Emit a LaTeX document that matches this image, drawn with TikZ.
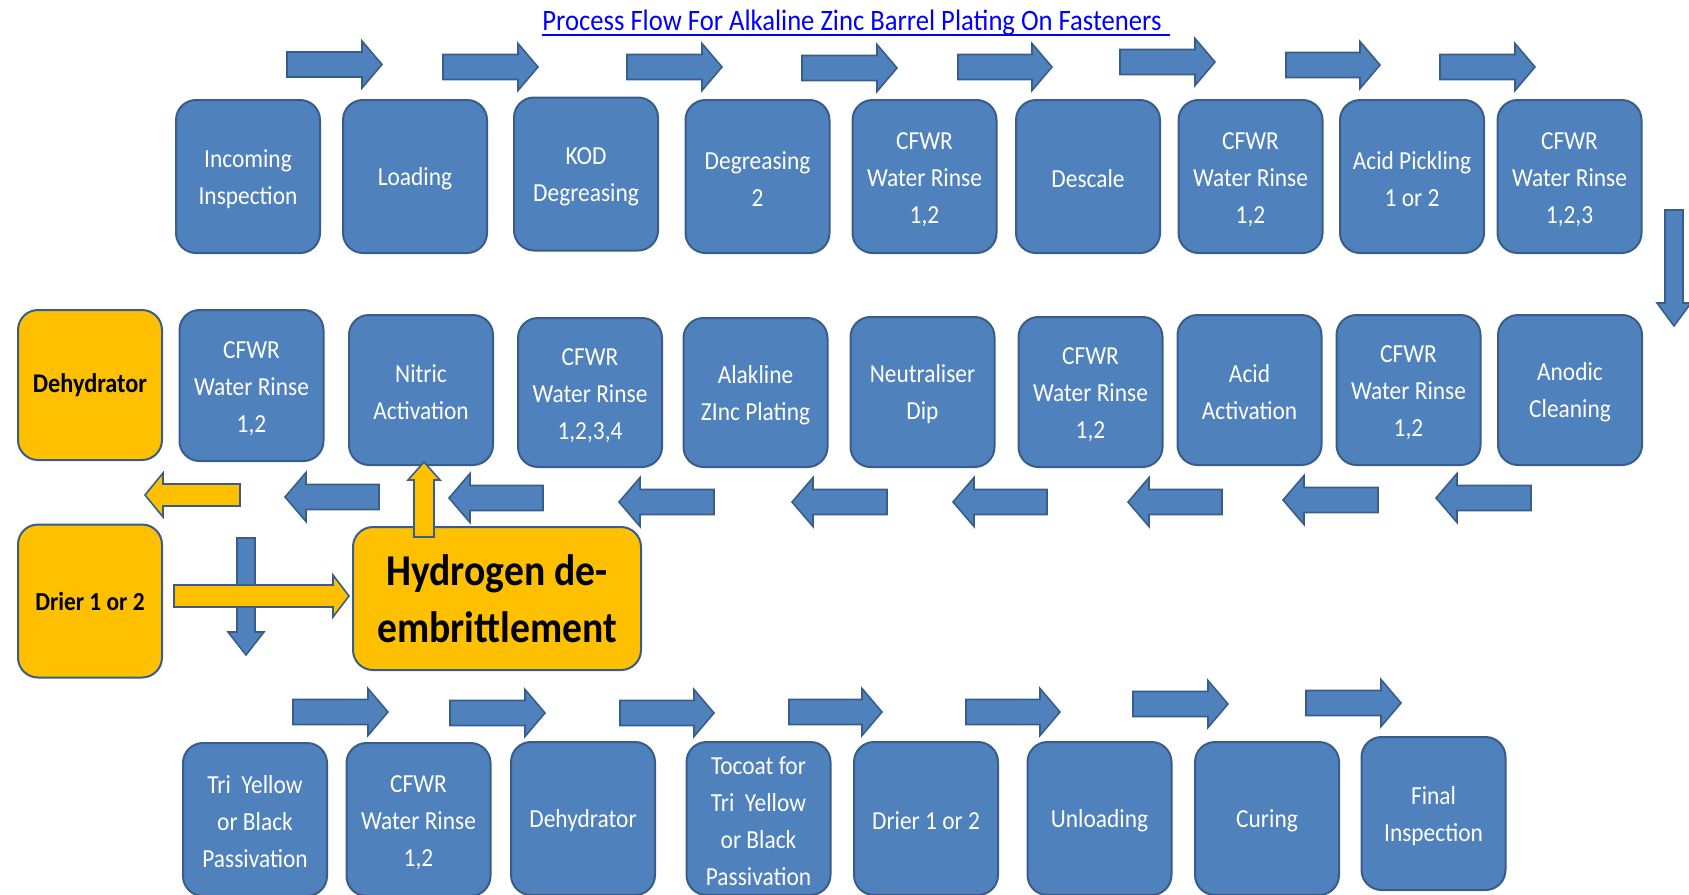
\documentclass[tikz,border=0pt]{standalone}
\usepackage{fontspec}
\setmainfont{Carlito}[FakeStretch=0.9]
\definecolor{boxblue}{HTML}{4F81BD}
\definecolor{edgeblue}{HTML}{385D8A}
\definecolor{goldy}{HTML}{FFC000}
\definecolor{titleblue}{HTML}{0000FF}
\newcommand\topgap{\rule{0pt}{11.5pt}}
\tikzset{
  stepbox/.style={draw=edgeblue, line width=1pt, fill=boxblue, rounded corners=10pt,
    minimum width=72pt, minimum height=76.5pt, inner sep=0pt, align=center,
    text=white, font=\fontsize{13pt}{18.5pt}\selectfont},
  ybox/.style={stepbox, fill=goldy, text=black, font=\fontsize{13pt}{18.5pt}\selectfont\bfseries},
  bigbox/.style={ybox, minimum width=144pt, minimum height=71.5pt, font=\fontsize{22pt}{28.5pt}\selectfont\bfseries},
  barrow/.style={draw=edgeblue, line width=0.8pt, fill=boxblue},
  yarrow/.style={draw=edgeblue, line width=0.8pt, fill=goldy},
}
% horizontal block arrow: style, tail x, tip x, y, shaft half, head half, head length
\newcommand\hblock[7]{%
  \pgfmathsetmacro\hbase{#3-#7*sign(#3-#2)}%
  \draw[#1] (#2,#4-#5) -- (\hbase,#4-#5) -- (\hbase,#4-#6) -- (#3,#4)
    -- (\hbase,#4+#6) -- (\hbase,#4+#5) -- (#2,#4+#5) -- cycle;}
% vertical block arrow: style, x, tail y, tip y, shaft half, head half, head length
\newcommand\vblock[7]{%
  \pgfmathsetmacro\vbase{#4-#7*sign(#4-#3)}%
  \draw[#1] (#2-#5,#3) -- (#2-#5,\vbase) -- (#2-#6,\vbase) -- (#2,#4)
    -- (#2+#6,\vbase) -- (#2+#5,\vbase) -- (#2+#5,#3) -- cycle;}
\begin{document}
\begin{tikzpicture}[x=0.5pt,y=-0.5pt]
\useasboundingbox (0,0) rectangle (1689,894);

% title
\node[font=\fontsize{14.8pt}{17pt}\selectfont, text=titleblue, inner sep=0pt, anchor=base] (title) at (852,31)
  {Process Flow For Alkaline Zinc Barrel Plating On Fasteners};
\draw[titleblue, line width=0.7pt] ([yshift=-2pt]title.base west) -- ([yshift=-2pt,xshift=4pt]title.base east);

% row 1
\node[stepbox] (r1a) at (248,176.5) {\topgap Incoming\\Inspection};
\node[stepbox] (r1b) at (415,176.5) {\topgap Loading};
\node[stepbox] (r1c) at (586,174) {\topgap KOD\\Degreasing};
\node[stepbox] (r1d) at (757.5,176.5) {\topgap Degreasing\\2};
\node[stepbox] (r1e) at (924.5,176.5) {\topgap CFWR\\Water Rinse\\1,2};
\node[stepbox] (r1f) at (1088,176.5) {\topgap Descale};
\node[stepbox] (r1g) at (1250.5,176.5) {\topgap CFWR\\Water Rinse\\1,2};
\node[stepbox] (r1h) at (1412,176.5) {\topgap Acid Pickling\\1 or 2};
\node[stepbox] (r1i) at (1569.5,176.5) {\topgap CFWR\\Water Rinse\\1,2,3};

% row 2
\node[ybox, minimum height=75pt, font=\fontsize{13.5pt}{18.5pt}\selectfont\bfseries] (r2a) at (90,385) {Dehydrator};
\node[stepbox, minimum height=75.5pt] (r2b) at (251.5,385.5) {\topgap CFWR\\Water Rinse\\1,2};
\node[stepbox, minimum height=75pt] (r2c) at (421,390) {\topgap Nitric\\Activation};
\node[stepbox, minimum height=74.5pt] (r2d) at (590,392.5) {\topgap CFWR\\Water Rinse\\1,2,3,4};
\node[stepbox, minimum height=74.5pt] (r2e) at (755.5,392.5) {\topgap Alakline\\ZInc Plating};
\node[stepbox, minimum height=75pt] (r2f) at (922.5,392) {\topgap Neutraliser\\Dip};
\node[stepbox, minimum height=75pt] (r2g) at (1090.5,392) {\topgap CFWR\\Water Rinse\\1,2};
\node[stepbox, minimum height=75pt] (r2h) at (1249.5,390) {\topgap Acid\\Activation};
\node[stepbox, minimum height=75pt] (r2i) at (1408.5,390) {\topgap CFWR\\Water Rinse\\1,2};
\node[stepbox, minimum height=75pt] (r2j) at (1570,390) {\topgap Anodic\\Cleaning};

% row 3
\node[ybox] (r3a) at (90,601) {Drier 1 or 2};
\node[bigbox] (r3b) at (497,598.5) {Hydrogen de-\\embrittlement};

% row 4
\node[stepbox] (r4a) at (255,819.5) {\topgap Tri\ \ Yellow\\or Black\\Passivation};
\node[stepbox] (r4b) at (418.5,819.5) {\topgap CFWR\\Water Rinse\\1,2};
\node[stepbox] (r4c) at (583,818.5) {\topgap Dehydrator};
\node[stepbox] (r4d) at (758.5,818.5) {\topgap Tocoat for\\Tri\ \ Yellow\\or Black\\Passivation};
\node[stepbox] (r4e) at (926,818.5) {\topgap Drier 1 or 2};
\node[stepbox] (r4f) at (1099.5,818.5) {\topgap Unloading};
\node[stepbox] (r4g) at (1267,818.5) {\topgap Curing};
\node[stepbox] (r4h) at (1433.5,813.5) {\topgap Final\\Inspection};

% top row arrows
\hblock{barrow}{287}{382}{64.5}{12.5}{23.5}{20}
\hblock{barrow}{443}{538}{67}{12.5}{23.5}{20}
\hblock{barrow}{627}{722}{67}{12.5}{23.5}{20}
\hblock{barrow}{802}{897}{68}{12.5}{23.5}{20}
\hblock{barrow}{958}{1052}{67}{12.5}{23.5}{20}
\hblock{barrow}{1120}{1215}{62}{12.5}{23.5}{20}
\hblock{barrow}{1286}{1380}{65}{12.5}{23.5}{20}
\hblock{barrow}{1440}{1535}{67}{12.5}{23.5}{20}
% right down arrow
\vblock{barrow}{1674}{210}{326}{9}{17}{23}

% middle row arrows (leftwards)
\hblock{barrow}{1531}{1436}{498}{12.5}{24.5}{21}
\hblock{barrow}{1378}{1283}{500}{12.5}{24.5}{21}
\hblock{barrow}{1222}{1128}{502}{12.5}{24.5}{21}
\hblock{barrow}{1047}{953}{502}{12.5}{24.5}{21}
\hblock{barrow}{887}{792}{502}{12.5}{24.5}{21}
\hblock{barrow}{714}{619}{502}{12.5}{24.5}{21}
\hblock{barrow}{543}{449}{498}{12.5}{24.5}{21}
\hblock{barrow}{379}{285}{497}{12.5}{24.5}{21}
\hblock{yarrow}{240}{145}{495}{11}{22}{18}

% up arrow from hydrogen box to nitric activation
\vblock{yarrow}{424}{537}{462}{10}{16}{18}
% blue down arrow
\vblock{barrow}{246}{538}{655}{9}{18}{23}
% yellow right arrow drier -> hydrogen
\hblock{yarrow}{174}{349}{596}{11}{21}{16}

% bottom row arrows
\hblock{barrow}{293}{388}{712}{12.5}{23.5}{20}
\hblock{barrow}{450}{545}{713}{12.5}{23.5}{20}
\hblock{barrow}{620}{714}{713}{12.5}{23.5}{20}
\hblock{barrow}{789}{882}{712}{12.5}{23.5}{20}
\hblock{barrow}{966}{1060}{712}{12.5}{23.5}{20}
\hblock{barrow}{1133}{1228}{704}{12.5}{23.5}{20}
\hblock{barrow}{1306}{1401}{703}{12.5}{23.5}{20}
\end{tikzpicture}
\end{document}
